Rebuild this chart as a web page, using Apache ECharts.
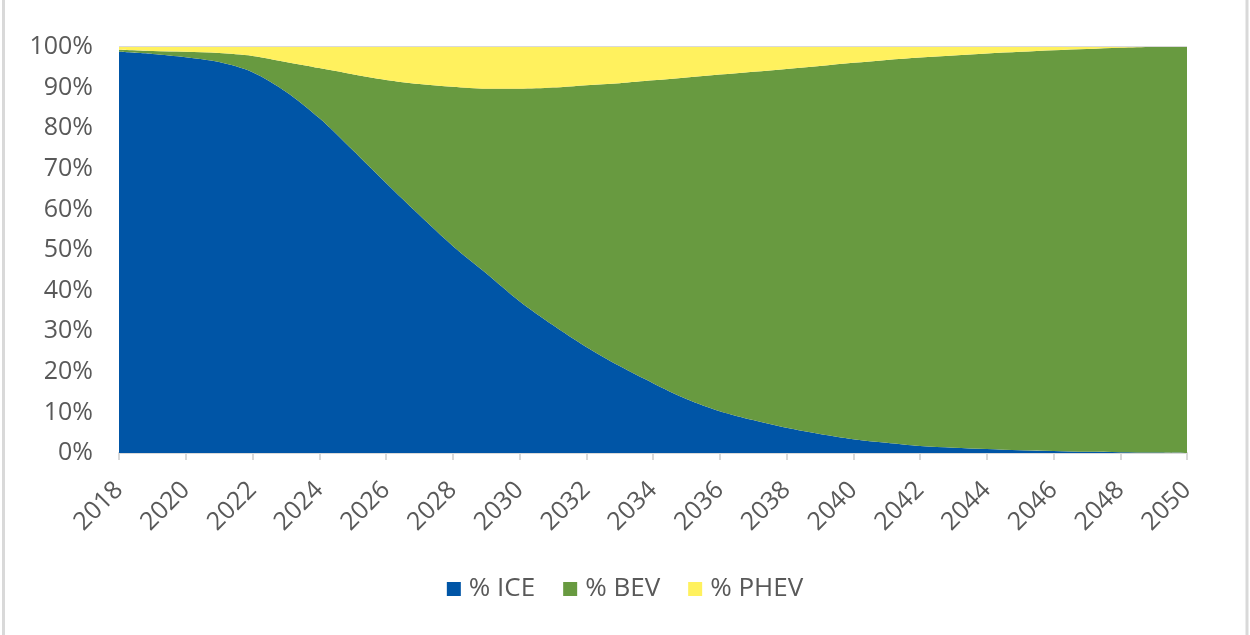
<!DOCTYPE html>
<html>
<head>
<meta charset="utf-8">
<script src="https://cdn.jsdelivr.net/npm/echarts@6/dist/echarts.min.js"></script>
<style>
  html, body { margin: 0; padding: 0; background: #ffffff; }
  #container { width: 1250px; height: 635px; }
</style>
</head>
<body>
<div id="container"></div>
<script>
// years on the category axis
const years = []
for (let y = 2018; y <= 2050; y++) years.push(String(y))

// share of ICE (%)
const ice = [98.8, 98.3, 97.5, 96.3, 93.8, 89.0, 82.5, 74.6, 66.5, 58.6,
  51.0, 44.3, 37.4, 31.5, 26.1, 21.4, 17.2, 13.3, 10.3, 8.1,
  6.2, 4.7, 3.4, 2.5, 1.7, 1.3, 1.0, 0.7, 0.5, 0.3,
  0.2, 0.1, 0.0]

// ICE + BEV cumulative top (%)
const iceBevTop = [99.3, 99.0, 98.8, 98.5, 97.8, 96.3, 94.8, 93.3, 91.9, 90.9,
  90.2, 89.7, 89.7, 90.0, 90.6, 91.1, 91.8, 92.5, 93.2, 93.9,
  94.6, 95.3, 96.1, 96.8, 97.4, 97.9, 98.4, 98.8, 99.2, 99.5,
  99.8, 100, 100]

const bev = iceBevTop.map((t, i) => +(t - ice[i]).toFixed(1))
const phev = iceBevTop.map(t => +(100 - t).toFixed(1))

const yTicks = { min: 0, max: 100, interval: 10 }

const myChart = echarts.init(document.getElementById('container'))
const option = {
  animation: false,
  color: ['#0055a6', '#689a40', '#fff15e'],
  textStyle: { fontFamily: 'Open Sans, Liberation Sans, sans-serif' },
  grid: { left: 119, right: 63, top: 47, bottom: 182 },
  legend: {
    data: ['% ICE', '% BEV', '% PHEV'],
    bottom: 28,
    left: 'center',
    icon: 'rect',
    itemWidth: 14,
    itemHeight: 14,
    itemGap: 28,
    textStyle: { color: '#595959', fontSize: 26, padding: [0, 0, 0, 3] }
  },
  xAxis: {
    type: 'category',
    data: years,
    boundaryGap: false,
    axisLine: { lineStyle: { color: '#d9d9d9', width: 2 } },
    axisTick: { show: true, interval: 1, length: 7, lineStyle: { color: '#d9d9d9', width: 2 } },
    axisLabel: { interval: 1, rotate: 45, color: '#595959', fontSize: 25, margin: 33 }
  },
  yAxis: {
    type: 'value',
    min: yTicks.min,
    max: yTicks.max,
    interval: yTicks.interval,
    axisLine: { show: false },
    axisTick: { show: false },
    splitLine: {
      show: true,
      lineStyle: { color: '#d9d9d9', width: 2 },
      // only the top line is visible in the reference
      interval: function (i, v) { return v === 100 }
    },
    axisLabel: { formatter: '{value}%', color: '#595959', fontSize: 25, margin: 26 }
  },
  graphic: [
    { type: 'line', shape: { x1: 3.5, y1: 0, x2: 3.5, y2: 635 }, style: { stroke: '#d9d9d9', lineWidth: 3 } },
    { type: 'line', shape: { x1: 1247, y1: 0, x2: 1247, y2: 635 }, style: { stroke: '#d9d9d9', lineWidth: 3 } }
  ],
  series: [
    { name: '% ICE', type: 'line', stack: 'total', data: ice, smooth: 0.3, symbol: 'none', lineStyle: { width: 0 }, areaStyle: { opacity: 1 } },
    { name: '% BEV', type: 'line', stack: 'total', data: bev, smooth: 0.3, symbol: 'none', lineStyle: { width: 0 }, areaStyle: { opacity: 1 } },
    { name: '% PHEV', type: 'line', stack: 'total', data: phev, smooth: 0.3, symbol: 'none', lineStyle: { width: 0 }, areaStyle: { opacity: 1 } }
  ]
}
myChart.setOption(option)
</script>
</body>
</html>
